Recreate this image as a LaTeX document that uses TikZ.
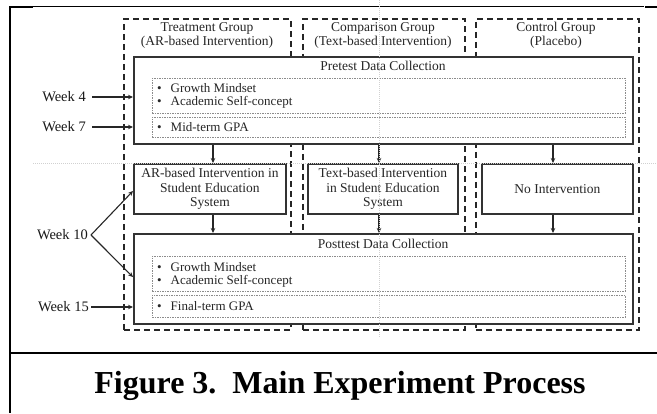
\documentclass[tikz,border=0pt]{standalone}
\usepackage{fontspec}
\setmainfont{Liberation Serif}
\usetikzlibrary{arrows.meta,calc}
\begin{document}
\begin{tikzpicture}[x=1pt,y=-1pt,
  grp/.style={draw=black!85, line width=1.8pt, dash pattern=on 6pt off 4pt, inner sep=0pt, anchor=north west},
  bx/.style={draw=black!80, line width=1.8pt, fill=white, inner sep=0pt, anchor=north west},
  inr/.style={draw=black!45, line width=0.6pt, dash pattern=on 1.5pt off 1pt, inner sep=0pt, anchor=north west},
  lbl/.style={font=\fontsize{13.5}{14.5}\selectfont, text=black!85, inner sep=0pt, align=center},
  bul/.style={font=\fontsize{13}{15}\selectfont, text=black!85, inner sep=0pt, anchor=west},
  wk/.style={font=\fontsize{14.5}{16}\selectfont, text=black!90, inner sep=0pt, anchor=east},
  arr/.style={-{Stealth[length=5pt,width=4.5pt]}, line width=1.1pt, draw=black!85},
  guide/.style={draw=black!18, line width=0.5pt, dash pattern=on 1pt off 1pt}]
\useasboundingbox (0,0) rectangle (657,413);
% outer frame
\draw[line width=2pt] (10,6) -- (10,413);
\draw[line width=1pt] (10,6) -- (644,6);
\draw[line width=2pt] (10,6.5) -- (33,6.5);
\draw[line width=1.5pt] (645,7) -- (657,7);
\draw[line width=2pt] (10,353) -- (657,353);
% groups
\node[grp, minimum width=167pt, minimum height=311pt] (tg) at (123,18) {};
\node[grp, minimum width=162pt, minimum height=311pt] (cg) at (302,18) {};
\node[grp, minimum width=163pt, minimum height=311pt] (ctl) at (475,18) {};
\node[lbl] (tgt) at (207,35.5) {Treatment Group\\(AR-based Intervention)};
\node[lbl] (cgt) at (383,35.5) {Comparison Group\\(Text-based Intervention)};
\node[lbl] (ctlt) at (556,35.5) {Control Group\\(Placebo)};
% pretest
\node[bx, minimum width=499pt, minimum height=87pt] (pre) at (133,56) {};
\node[lbl] (pret) at (383,66) {Pretest Data Collection};
\node[inr, minimum width=473pt, minimum height=35pt] (pi1) at (152,78) {};
\node[inr, minimum width=473pt, minimum height=20pt] (pi2) at (152,117) {};
\node[bul] (pb1) at (157,88) {•\hspace{9pt}Growth Mindset};
\node[bul] (pb2) at (157,102) {•\hspace{9pt}Academic Self-concept};
\node[bul] (pb3) at (157,127.5) {•\hspace{9pt}Mid-term GPA};
% middle
\node[bx, minimum width=152pt, minimum height=50pt] (ar) at (133,163) {};
\node[lbl] (art) at (ar.center) {AR-based Intervention in\\Student Education\\System};
\node[bx, minimum width=150pt, minimum height=50pt] (tb) at (307,163) {};
\node[lbl] (tbt) at (tb.center) {Text-based Intervention\\in Student Education\\System};
\node[bx, minimum width=151pt, minimum height=50pt] (ni) at (481,163) {};
\node[lbl] (nit) at (ni.center) {No Intervention};
% posttest
\node[bx, minimum width=499pt, minimum height=90pt] (post) at (133,233) {};
\node[lbl] (postt) at (383,244) {Posttest Data Collection};
\node[inr, minimum width=473pt, minimum height=35pt] (qi1) at (152,256) {};
\node[inr, minimum width=473pt, minimum height=22pt] (qi2) at (152,295) {};
\node[bul] (qb1) at (157,267) {•\hspace{9pt}Growth Mindset};
\node[bul] (qb2) at (157,281) {•\hspace{9pt}Academic Self-concept};
\node[bul] (qb3) at (157,306.5) {•\hspace{9pt}Final-term GPA};
% vertical arrows
\coordinate (c1) at (213,0);
\coordinate (c2) at (379,0);
\coordinate (c3) at (553,0);
\foreach \c/\a/\b in {c1/pre/ar, c2/pre/tb, c3/pre/ni, c1/ar/post, c2/tb/post, c3/ni/post}
  \draw[arr] (\c |- \a.south) -- (\c |- \b.north);
% weeks
\node[wk] (w4) at (86,97) {Week 4};
\node[wk] (w7) at (86,127) {Week 7};
\node[wk] (w10) at (88,235) {Week 10};
\node[wk] (w15) at (89,307) {Week 15};
\draw[arr] ([xshift=6pt]w4.east) -- (w4.east -| pre.west);
\draw[arr] ([xshift=6pt]w7.east) -- (w7.east -| pre.west);
\draw[arr] ([xshift=3pt]w10.east) -- ($(ar.north west)!0.54!(ar.south west)$);
\draw[arr] ([xshift=3pt]w10.east) -- ($(post.north west)!0.48!(post.south west)$);
\draw[arr] ([xshift=2pt]w15.east) -- (w15.east -| post.west);
% guides
\draw[guide] (33,163) -- (657,163);
\draw[guide] (379,0) -- (379,337);
% caption
\node[font=\fontsize{32}{36}\bfseries\selectfont, inner sep=0pt] (cap) at (340,386) {Figure 3.\ \ Main Experiment Process};
\end{tikzpicture}
\end{document}
